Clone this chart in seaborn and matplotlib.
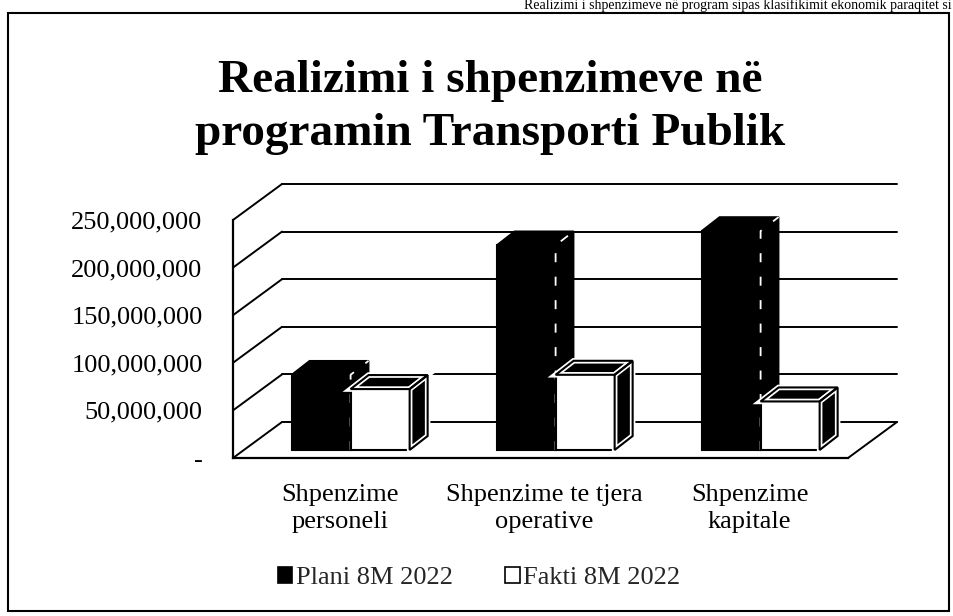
import numpy as np
import pandas as pd
import matplotlib
matplotlib.use('Agg')
import matplotlib.pyplot as plt
import seaborn as sns
from matplotlib.patches import Polygon, Patch, Rectangle
from matplotlib.ticker import FuncFormatter

# te dhenat
categories = ['Shpenzime\npersoneli', 'Shpenzime te tjera\noperative', 'Shpenzime\nkapitale']
series = ['Plani 8M 2022', 'Fakti 8M 2022']
plani = [79_000_000, 215_000_000, 230_000_000]
fakti = [64_000_000, 79_000_000, 51_000_000]
yticks = [0, 50_000_000, 100_000_000, 150_000_000, 200_000_000, 250_000_000]
colors = ['black', 'white']

df = pd.DataFrame({
    'Kategoria': categories * 2,
    'Seria': [series[0]] * 3 + [series[1]] * 3,
    'Vlera': plani + fakti,
})

sns.set_theme(style='white')
plt.rcParams['font.family'] = ['Liberation Serif', 'DejaVu Serif']

W, H = 954, 616
fig = plt.figure(figsize=(W / 100, H / 100), dpi=100)
fig.patch.set_facecolor('white')

# front plane of the 3D box, in pixels
x_left, x_right, y_zero, y_top = 233, 848, 458, 220
ax = fig.add_axes([x_left / W, 1 - y_zero / H, (x_right - x_left) / W, (y_zero - y_top) / H])
ax.set_facecolor('none')

sns.barplot(data=df, x='Kategoria', y='Vlera', hue='Seria', hue_order=series,
            palette=dict(zip(series, colors)), saturation=1, width=0.576,
            edgecolor='black', linewidth=1.5, legend=False, ax=ax)

ax.set_xlim(-0.52, 2.48)
ax.set_ylim(0, 250_000_000)

# pixel -> data units
p0 = ax.transData.transform((0, 0))
p1 = ax.transData.transform((1, 100_000_000))
ux = p1[0] - p0[0]
uy = (p1[1] - p0[1]) / 100_000_000

back = (49 / ux, 36 / uy)      # back wall offset
shift = (11 / ux, 8 / uy)      # bars sit a bit behind the front edge
depth = (18 / ux, 14 / uy)     # bar depth

line_kw = dict(color='black', lw=1.4, clip_on=False, zorder=1)

# back wall gridlines and side wall
xl0, xl1 = ax.get_xlim()
for v in yticks:
    ax.plot([xl0 + back[0], xl1 + back[0]], [v + back[1], v + back[1]], **line_kw)
    ax.plot([xl0, xl0 + back[0]], [v, v + back[1]], **line_kw)
# floor right edge
ax.plot([xl1, xl1 + back[0]], [0, back[1]], **line_kw)

# 3D faces for bars
for k, cont in enumerate(ax.containers):
    z = 3 + k
    for bar in cont:
        x, w, h = bar.get_x(), bar.get_width(), bar.get_height()
        x0, y0 = x + shift[0], shift[1]
        y1 = y0 + h
        bar.set_x(x0)
        bar.set_y(y0)
        bar.set_clip_on(False)
        bar.set_zorder(z)
        top = [(x0, y1), (x0 + w, y1), (x0 + w + depth[0], y1 + depth[1]), (x0 + depth[0], y1 + depth[1])]
        side = [(x0 + w, y0), (x0 + w + depth[0], y0 + depth[1]),
                (x0 + w + depth[0], y1 + depth[1]), (x0 + w, y1)]
        if k == 0:
            for pts in (top, side):
                ax.add_patch(Polygon(pts, closed=True, facecolor='black', edgecolor='black',
                                     lw=1.2, clip_on=False, zorder=z))
            ax.plot([x0 + w, x0 + w, x0 + w + depth[0]], [y0, y1, y1 + depth[1]],
                    color='white', lw=1.3, ls=(0, (5, 8)), clip_on=False, zorder=z + 0.1)
        else:
            for pts in (top, side):
                ax.add_patch(Polygon(pts, closed=True, facecolor='black', edgecolor='white',
                                     lw=4, clip_on=False, zorder=z))
                ax.add_patch(Polygon(pts, closed=True, fill=False, edgecolor='black',
                                     lw=1.5, clip_on=False, zorder=z + 0.1))

# axes styling
sns.despine(ax=ax)
for s in ('left', 'bottom'):
    ax.spines[s].set_color('black')
    ax.spines[s].set_linewidth(1.6)
ax.set_yticks(yticks)
ax.yaxis.set_major_formatter(FuncFormatter(lambda v, _: '-' if v == 0 else f'{v:,.0f}'))
ax.tick_params(axis='y', length=0, pad=22, labelsize=19, labelcolor='black')
ax.tick_params(axis='x', length=0, pad=19, labelsize=19, labelcolor='black')
for lbl in ax.get_xticklabels():
    lbl.set_linespacing(1.3)
ax.set_xlabel('')
ax.set_ylabel('')
ax.grid(False)

# titulli
fig.text(490 / W, 1 - 92 / H, 'Realizimi i shpenzimeve në', ha='center', va='baseline',
         fontsize=34, fontweight='bold', color='black')
fig.text(490 / W, 1 - 145 / H, 'programin Transporti Publik', ha='center', va='baseline',
         fontsize=34, fontweight='bold', color='black')

# legjenda
handles = [Patch(facecolor=c, edgecolor='black', lw=1.2) for c in colors]
fig.legend(handles, series, loc='center', bbox_to_anchor=(479 / W, 1 - 578 / H), ncol=2,
           frameon=False, fontsize=19, handlelength=0.55, handleheight=0.55,
           handletextpad=0.12, columnspacing=2.0)

# korniza
fig.add_artist(Rectangle((8 / W, 1 - 611 / H), (949 - 8) / W, (611 - 13) / H,
                         transform=fig.transFigure, fill=False, edgecolor='black', lw=1.5))

# rreshti i tekstit mbi grafik
fig.text(952 / W, 1 - 9 / H, 'Realizimi i shpenzimeve në program sipas klasifikimit ekonomik paraqitet si',
         ha='right', va='baseline', fontsize=10, color='black')

fig.savefig('out.png', dpi=100)
